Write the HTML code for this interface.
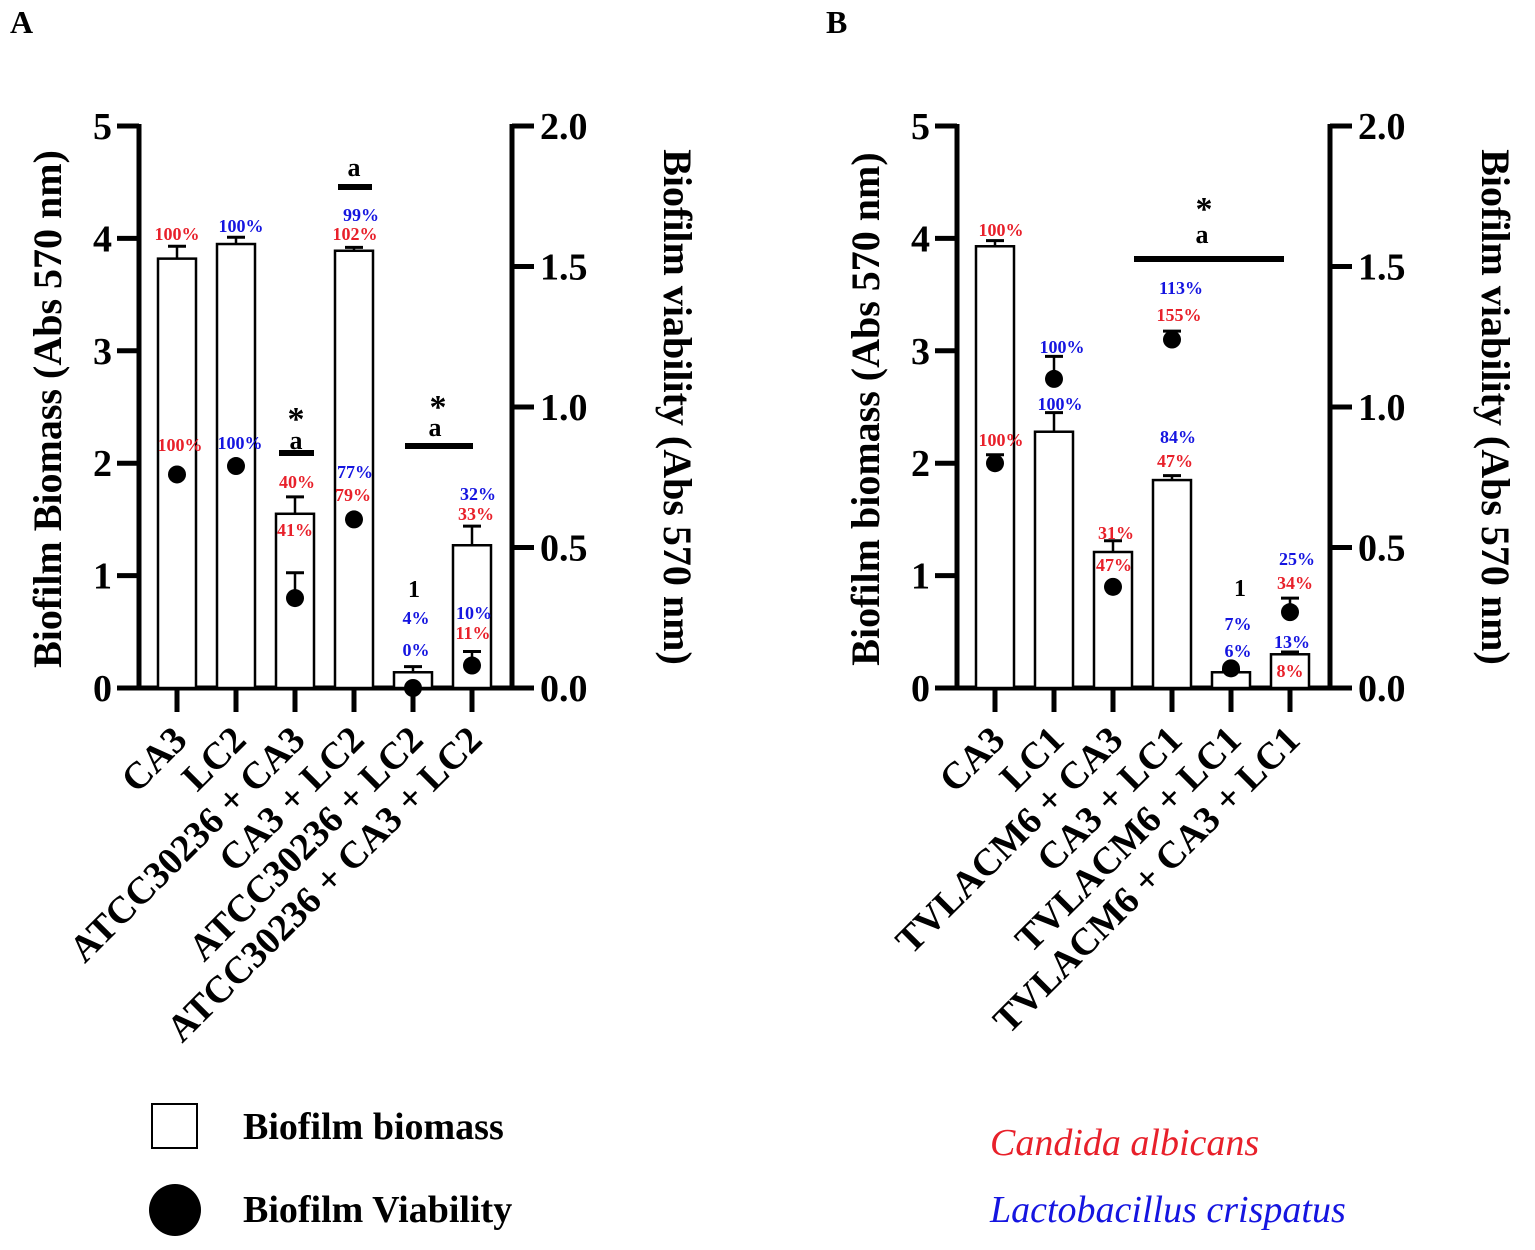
<!DOCTYPE html>
<html><head><meta charset="utf-8"><style>
body{margin:0;background:#fff}
svg text{font-family:"Liberation Serif",serif;font-weight:bold}
</style></head><body>
<svg id="chart" width="1535" height="1245" viewBox="0 0 1535 1245" xmlns="http://www.w3.org/2000/svg">
<text x="10" y="33" font-size="32">A</text>
<text x="826" y="33" font-size="32">B</text>
<g id="pa"></g><g id="pb"></g>
<g>
<rect x="152" y="1104" width="45" height="44" fill="#fff" stroke="#000" stroke-width="2"/>
<text x="243" y="1139" font-size="38">Biofilm biomass</text>
<circle cx="175" cy="1210" r="26" fill="#000"/>
<text x="243" y="1222" font-size="38">Biofilm Viability</text>
<text x="990" y="1155" font-size="38" fill="#e8202a" style="font-style:italic;font-weight:normal">Candida albicans</text>
<text x="990" y="1222" font-size="38" fill="#1515e0" style="font-style:italic;font-weight:normal">Lactobacillus crispatus</text>
</g>
</svg>
<script>
const catsA=["CA3","LC2","ATCC30236 + CA3","CA3 + LC2","ATCC30236 + LC2","ATCC30236 + CA3 + LC2"];
const biomassA=[3.82,3.95,1.55,3.89,0.14,1.27];
const biomassErrA=[0.11,0.06,0.15,0.03,0.05,0.17];
const viabA=[0.76,0.79,0.32,0.60,0.0,0.08];
const viabErrA=[0,0,0.09,0,0,0.05];
const catsB=["CA3","LC1","TVLACM6 + CA3","CA3 + LC1","TVLACM6 + LC1","TVLACM6 + CA3 + LC1"];
const biomassB=[3.93,2.28,1.21,1.85,0.14,0.30];
const biomassErrB=[0.05,0.17,0.10,0.04,0.02,0.02];
const viabB=[0.80,1.10,0.36,1.24,0.07,0.27];
const viabErrB=[0.03,0.08,0,0.03,0,0.05];
const leftTicks=["0","1","2","3","4","5"];
const rightTicks=["0.0","0.5","1.0","1.5","2.0"];
const R="#e8202a",B="#1515e0",K="#000";
// annotations: [barIndex, dx, y, text, color, size]
const annA=[[0,0,240,"100%",R,18],[0,3,451,"100%",R,18],[1,5,232,"100%",B,18],[1,4,449,"100%",B,18],
[2,1,430,"*",K,34],[2,1,449,"a",K,26],[2,2,488,"40%",R,18],[2,0,536,"41%",R,18],
[3,0,176,"a",K,26],[3,7,221,"99%",B,18],[3,1,240,"102%",R,18],[3,1,478,"77%",B,18],[3,-1,501,"79%",R,18],
[4,25,418,"*",K,34],[4,22,436,"a",K,26],[4,1,597,"1",K,24],[4,3,624,"4%",B,18],[4,3,656,"0%",B,18],
[5,6,500,"32%",B,18],[5,4,520,"33%",R,18],[5,2,619,"10%",B,18],[5,1,639,"11%",R,18]];
const linesA=[[279,314,453],[338,372,187],[405,473,446]];
const annB=[[0,6,236,"100%",R,18],[0,6,446,"100%",R,18],[1,8,353,"100%",B,18],[1,6,410,"100%",B,18],
[2,3,539,"31%",R,18],[2,1,571,"47%",R,18],
[3,32,220,"*",K,34],[3,30,243,"a",K,26],[3,9,294,"113%",B,18],[3,7,321,"155%",R,18],[3,6,443,"84%",B,18],[3,3,467,"47%",R,18],
[4,9,596,"1",K,24],[4,7,630,"7%",B,18],[4,7,657,"6%",B,18],
[5,7,565,"25%",B,18],[5,5,589,"34%",R,18],[5,2,648,"13%",B,18],[5,0,677,"8%",R,18]];
const linesB=[[1134,1284,259]];
const NS="http://www.w3.org/2000/svg";
function mk(p,t,a){const e=document.createElementNS(NS,t);for(const k in a)e.setAttribute(k,a[k]);p.appendChild(e);return e;}
function panel(g,cfg){
 const y0=688,yTop=126,L=cfg.L,Rx=cfg.R;
 const yL=v=>y0-(y0-yTop)*v/5, yR=v=>y0-(y0-yTop)*v/2;
 const xc=i=>L+38+i*59;
 let e;
 e=mk(g,"line",{x1:L,y1:yTop-2,x2:L,y2:y0+2,stroke:"#000","stroke-width":5});
 
 
 e=mk(g,"line",{x1:Rx,y1:yTop-2,x2:Rx,y2:y0+2,stroke:"#000","stroke-width":5});
 
 
 e=mk(g,"line",{x1:L-20,y1:y0,x2:Rx,y2:y0,stroke:"#000","stroke-width":5});
 
 
 leftTicks.forEach((t,i)=>{const y=yL(+t);
  mk(g,"line",{x1:L-22,y1:y,x2:L,y2:y,stroke:"#000","stroke-width":5});
  e=mk(g,"text",{x:L-27,y:y+13,"text-anchor":"end","font-size":38});e.textContent=t;
  
  });
 rightTicks.forEach(t=>{const y=yR(+t);
  mk(g,"line",{x1:Rx,y1:y,x2:Rx+22,y2:y,stroke:"#000","stroke-width":5});
  e=mk(g,"text",{x:Rx+28,y:y+13,"font-size":38});e.textContent=t;
  
  });
 e=mk(g,"text",{transform:`translate(${L-78},409) rotate(-90)`,"text-anchor":"middle","font-size":40});e.textContent=cfg.lt;
 
 
 e=mk(g,"text",{transform:`translate(${Rx+152},407) rotate(90)`,"text-anchor":"middle","font-size":40});e.textContent="Biofilm viability (Abs 570 nm)";
 
 
 cfg.cats.forEach((c,i)=>{const x=xc(i);
  mk(g,"line",{x1:x,y1:y0,x2:x,y2:y0+24,stroke:"#000","stroke-width":5});
  e=mk(g,"text",{transform:`translate(${x+12},${y0+54}) rotate(-45)`,"text-anchor":"end","font-size":38});e.textContent=c;
  
  
  const v=cfg.bm[i],top=yL(v),et=yL(v+cfg.be[i]);
  mk(g,"line",{x1:x,y1:et,x2:x,y2:top,stroke:"#000","stroke-width":2.5});
  mk(g,"line",{x1:x-9,y1:et,x2:x+9,y2:et,stroke:"#000","stroke-width":3});
  e=mk(g,"rect",{x:x-19,y:top,width:38,height:y0-top,fill:"#fff",stroke:"#000","stroke-width":2.5});
  
  
 });
 cfg.cats.forEach((c,i)=>{const x=xc(i),vy=yR(cfg.vi[i]);
  if(cfg.ve[i]>0){const et=yR(cfg.vi[i]+cfg.ve[i]);
   mk(g,"line",{x1:x,y1:et,x2:x,y2:vy,stroke:"#000","stroke-width":2.5});
   mk(g,"line",{x1:x-9,y1:et,x2:x+9,y2:et,stroke:"#000","stroke-width":3});}
  e=mk(g,"circle",{cx:x,cy:vy,r:9,fill:"#000"});
  
  
 });
 cfg.ann.forEach(a=>{e=mk(g,"text",{x:xc(a[0])+a[1],y:a[2],"text-anchor":"middle","font-size":a[5],fill:a[4]});e.textContent=a[3];
  
  });
 cfg.lines.forEach(l=>{e=mk(g,"line",{x1:l[0],y1:l[2],x2:l[1],y2:l[2],stroke:"#000","stroke-width":6});
  
  });
}
panel(document.getElementById("pa"),{L:139,R:512,cats:catsA,bm:biomassA,be:biomassErrA,vi:viabA,ve:viabErrA,ann:annA,lines:linesA,lt:"Biofilm Biomass (Abs 570 nm)"});
panel(document.getElementById("pb"),{L:957,R:1330,cats:catsB,bm:biomassB,be:biomassErrB,vi:viabB,ve:viabErrB,ann:annB,lines:linesB,lt:"Biofilm biomass (Abs 570 nm)"});
</script>
</body></html>
